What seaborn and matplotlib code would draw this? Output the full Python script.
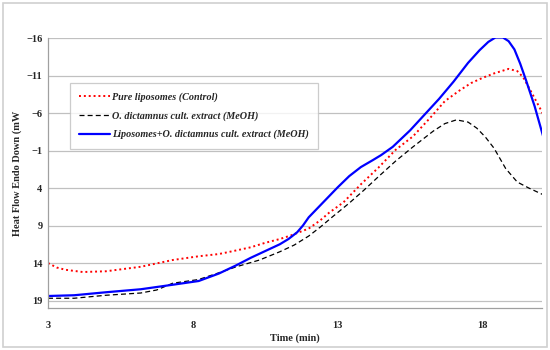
import numpy as np
import pandas as pd
import matplotlib
matplotlib.use('Agg')
import matplotlib.pyplot as plt
import seaborn as sns
from matplotlib.patches import Rectangle

# curves (time in min, heat flow in mW)
t_pure = [3.0, 3.3, 3.6, 4.2, 5.0, 6.2, 7.3, 8.2, 8.9, 9.4, 10.0, 10.5, 11.0, 11.4,
          12.0, 12.4, 12.7, 13.2, 13.8, 14.4, 15.0, 15.6, 16.2, 16.7, 17.2, 17.6,
          18.0, 18.4, 18.9, 19.2, 19.4, 19.7, 20.1]
hf_pure = [14.0, 14.6, 14.9, 15.2, 15.1, 14.5, 13.6, 13.1, 12.8, 12.4, 11.9, 11.3, 10.8, 10.3,
           9.4, 8.3, 7.3, 5.9, 3.5, 1.3, -1.1, -2.9, -5.4, -7.6, -9.0, -10.0,
           -10.7, -11.3, -11.9, -11.6, -10.8, -8.7, -5.8]

t_extr = [3.0, 3.9, 5.0, 6.2, 6.75, 7.3, 8.2, 8.9, 9.5, 10.3, 11.0, 11.5, 12.0, 12.4,
          12.8, 13.4, 13.9, 14.4, 15.0, 15.6, 16.3, 16.7, 17.1, 17.5, 17.8, 18.1,
          18.4, 18.8, 19.2, 19.6, 20.1]
hf_extr = [18.7, 18.7, 18.3, 18.0, 17.6, 16.7, 16.2, 15.3, 14.5, 13.6, 12.5, 11.6, 10.4, 9.2,
           7.9, 6.0, 4.3, 2.5, 0.4, -1.5, -3.6, -4.6, -5.1, -4.8, -4.0, -2.8,
           -1.3, 1.4, 3.2, 4.0, 4.9]

t_mix = [3.0, 3.9, 5.0, 6.2, 7.3, 8.2, 8.9, 9.5, 10.0, 10.5, 11.0, 11.3, 11.6, 11.8,
         12.0, 12.3, 12.6, 13.0, 13.4, 13.8, 14.2, 14.5, 14.9, 15.5, 16.0, 16.5, 17.0,
         17.5, 17.9, 18.2, 18.45, 18.7, 18.9, 19.1, 19.3, 19.5, 19.8, 20.1]
hf_mix = [18.4, 18.3, 17.9, 17.5, 16.9, 16.4, 15.4, 14.3, 13.3, 12.4, 11.5, 10.8, 9.9, 9.0,
          7.9, 6.7, 5.5, 3.9, 2.4, 1.2, 0.3, -0.4, -1.5, -3.7, -5.8, -7.9, -10.2,
          -12.7, -14.4, -15.5, -16.1, -16.1, -15.6, -14.5, -12.6, -10.4, -6.9, -2.8]

x_ticks = [3, 8, 13, 18]
y_ticks = [-16, -11, -6, -1, 4, 9, 14, 19]

sns.set_style('white')
plt.rcParams['font.family'] = ['Liberation Serif', 'DejaVu Serif']

fig = plt.figure(figsize=(5.5, 3.5), dpi=100)
ax = fig.add_axes([0.0873, 0.12, 0.898, 0.771])
fig.patches.append(Rectangle((0.006, 0.008), 0.988, 0.984, transform=fig.transFigure,
                             fill=False, edgecolor='#d0d0d0', linewidth=1.2))

sns.lineplot(x=t_pure, y=hf_pure, ax=ax, color='#ff0000', linestyle=(0, (1, 1.5)),
             linewidth=1.4, label='Pure liposomes (Control)', sort=False)
sns.lineplot(x=t_extr, y=hf_extr, ax=ax, color='black', linestyle=(0, (4, 2.5)),
             linewidth=0.9, label='O. dictamnus cult. extract (MeOH)', sort=False)
sns.lineplot(x=t_mix, y=hf_mix, ax=ax, color='#0000ff', linestyle='-',
             linewidth=1.6, label='Liposomes+O. dictamnus cult. extract (MeOH)', sort=False)

ax.set_xlim(3, 20.05)
ax.set_ylim(20, -16)
ax.set_xticks(x_ticks)
ax.set_yticks(y_ticks)
ax.yaxis.grid(True, color='#c0c0c0', linewidth=0.9)
ax.xaxis.grid(False)
for s in ['top', 'right']:
    ax.spines[s].set_visible(False)
for s in ['left', 'bottom']:
    ax.spines[s].set_color('#a0a0a0')
    ax.spines[s].set_linewidth(0.9)
ax.tick_params(axis='x', direction='out', length=3, color='#a0a0a0', pad=6)
ax.tick_params(axis='y', direction='out', length=0, pad=4)
for lab in ax.get_xticklabels() + ax.get_yticklabels():
    lab.set_fontsize(7.5)
    lab.set_fontweight('bold')

ax.set_xlabel('Time (min)', fontsize=7.5, fontweight='bold', labelpad=3)
ax.set_ylabel('Heat Flow Endo Down (mW', fontsize=7.5, fontweight='bold', labelpad=3)

leg = ax.legend(loc='upper left', bbox_to_anchor=(0.045, 0.833), borderaxespad=0,
                fancybox=False, frameon=True, handlelength=3.0, handletextpad=0.25,
                borderpad=0.9, labelspacing=0.9,
                prop={'size': 7.3, 'weight': 'bold', 'style': 'italic'})
leg.get_frame().set_edgecolor('#c0c0c0')
leg.get_frame().set_linewidth(0.9)

fig.savefig('out.png', dpi=100)
